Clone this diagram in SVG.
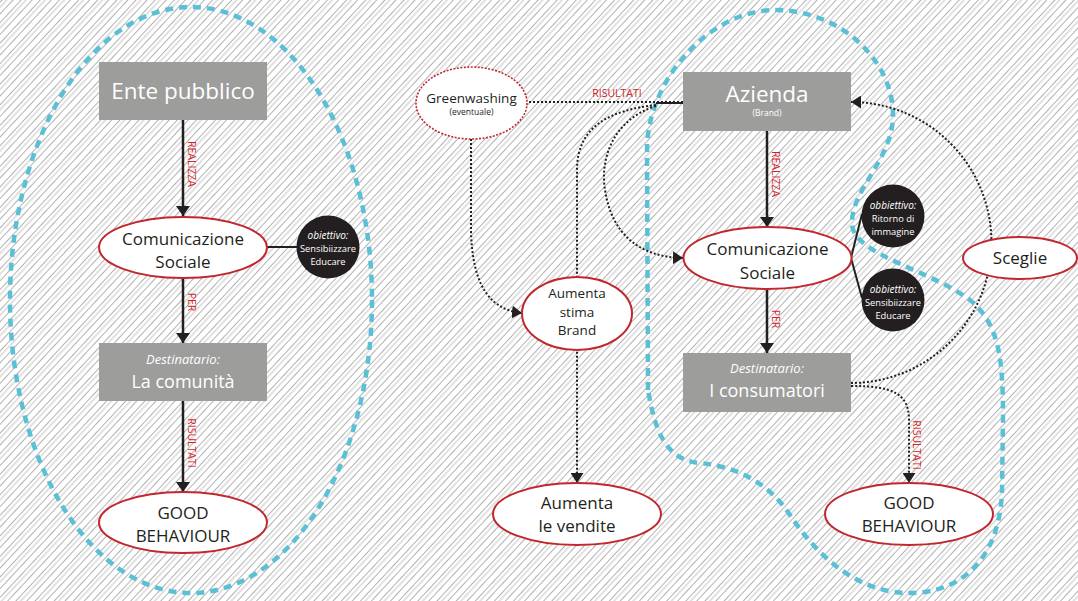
<svg xmlns="http://www.w3.org/2000/svg" width="1078" height="601" viewBox="0 0 1078 601">
<defs>
<pattern id="hatch" patternUnits="userSpaceOnUse" width="14" height="14" patternTransform="rotate(-47)">
<rect width="14" height="14" fill="#ffffff"/>
<line x1="0" y1="1.5" x2="14" y2="1.5" stroke="#b2b2b2" stroke-width="1"/>
<line x1="0" y1="5" x2="14" y2="5" stroke="#bcbcbc" stroke-width="0.9"/>
<line x1="0" y1="9.5" x2="14" y2="9.5" stroke="#b2b2b2" stroke-width="1"/>
</pattern>
<marker id="ah" viewBox="0 0 10 10" refX="10" refY="5" markerWidth="10" markerHeight="14" markerUnits="userSpaceOnUse" orient="auto" preserveAspectRatio="none">
<path d="M0,0 L10,5 L0,10 Z" fill="#231f20"/>
</marker>
<marker id="ahd" viewBox="0 0 10 10" refX="10" refY="5" markerWidth="10" markerHeight="13" markerUnits="userSpaceOnUse" orient="auto" preserveAspectRatio="none">
<path d="M0,0 L10,5 L0,10 Z" fill="#231f20"/>
</marker>
</defs>
<style>
text{font-family:"Open Sans","Noto Sans",sans-serif;text-anchor:middle}
.box{fill:#9d9d9c}
.ell{fill:#ffffff;stroke:#c1272d;stroke-width:2}
.dot{fill:#ffffff;stroke:#c1272d;stroke-width:1.6;stroke-dasharray:2 1.5}
.circ{fill:#231f20}
.solid{fill:none;stroke:#231f20;stroke-width:2.5}
.thin{fill:none;stroke:#231f20;stroke-width:2}
.dotted{fill:none;stroke:#231f20;stroke-width:2;stroke-dasharray:2 2}
.zone{fill:none;stroke:#5bc0d5;stroke-width:4.5;stroke-dasharray:8 6}
.w{fill:#ffffff}
.k{fill:#231f20}
.lbl{fill:#d2232a;font-size:10.5px}
.it{font-style:italic}
</style>
<rect width="1078" height="601" fill="url(#hatch)"/>
<g id="zones">
<ellipse class="zone" cx="191" cy="300" rx="181" ry="293"/>
<path class="zone" d="M648 390 L647 150 C647 80 710 10 775 10 C840 10 893 60 893 115 C893 160 850 190 852 225 C855 255 930 270 970 300 C1000 325 1003 360 1003 420 L1002 490 C1000 560 960 593 910 593 C860 593 820 560 790 515 C770 485 740 467 700 463 C665 460 655 430 648 390 Z"/>
</g>
<g id="connectors">
<line class="solid" x1="183" y1="120" x2="183" y2="216" marker-end="url(#ah)"/>
<line class="solid" x1="183" y1="278" x2="183" y2="343" marker-end="url(#ah)"/>
<line class="solid" x1="183" y1="401" x2="183" y2="492" marker-end="url(#ah)"/>
<line class="thin" x1="267" y1="247" x2="298" y2="247"/>
<line class="solid" x1="767" y1="131" x2="767" y2="227" marker-end="url(#ah)"/>
<line class="solid" x1="767" y1="289" x2="767" y2="353" marker-end="url(#ah)"/>
<line class="thin" x1="851" y1="258" x2="862" y2="214"/>
<line class="thin" x1="851" y1="258" x2="862" y2="298"/>
<line class="thin" x1="656" y1="103" x2="683" y2="103"/>
<line class="dotted" x1="683" y1="102" x2="527" y2="102"/>
<path class="dotted" d="M656 105 C612 110 577 125 577 170 L577 483" marker-end="url(#ahd)"/>
<path class="dotted" d="M656 106 C612 120 600 160 605 190 C612 235 640 257 683 258" marker-end="url(#ahd)"/>
<path class="dotted" d="M471 139 L471 230 C472 285 490 310 522 313" marker-end="url(#ahd)"/>
<path class="dotted" d="M851 383 A140 140 0 0 0 851 102" marker-end="url(#ahd)"/>
<path class="dotted" d="M851 386 C892 386 909 393 909 420 L909 483" marker-end="url(#ahd)"/>
<text class="lbl" transform="translate(188,164) rotate(90)">REALIZZA</text>
<text class="lbl" transform="translate(188,302) rotate(90)">PER</text>
<text class="lbl" transform="translate(188,443) rotate(90)">RISULTATI</text>
<text class="lbl" transform="translate(772,174) rotate(90)">REALIZZA</text>
<text class="lbl" transform="translate(772,319) rotate(90)">PER</text>
<text class="lbl" transform="translate(913,445) rotate(90)">RISULTATI</text>
<text class="lbl" x="617" y="97">RISULTATI</text>
</g>
<g id="ente-pubblico">
<rect class="box" x="99" y="62" width="168" height="58"/>
<text class="w" x="183" y="99" font-size="22.5">Ente pubblico</text>
</g>
<g id="comunicazione-sx">
<ellipse class="ell" cx="183" cy="247.5" rx="84" ry="30.5"/>
<text class="k" x="183" y="245" font-size="17">Comunicazione</text>
<text class="k" x="183" y="268" font-size="17">Sociale</text>
</g>
<g id="obiettivo-sx">
<circle class="circ" cx="328" cy="247" r="31.5"/>
<text class="w it" x="328" y="238.5" font-size="10">obiettivo:</text>
<text class="w" x="328" y="252" font-size="9.3">Sensibiizzare</text>
<text class="w" x="328" y="264.5" font-size="9.3">Educare</text>
</g>
<g id="destinatario-sx">
<rect class="box" x="99" y="343" width="168" height="58"/>
<text class="w it" x="183" y="364" font-size="13">Destinatario:</text>
<text class="w" x="183" y="388" font-size="18">La comunità</text>
</g>
<g id="good-sx">
<ellipse class="ell" cx="183" cy="522.5" rx="84" ry="30.5"/>
<text class="k" x="183" y="518.5" font-size="17">GOOD</text>
<text class="k" x="183" y="541.5" font-size="17">BEHAVIOUR</text>
</g>
<g id="greenwashing">
<ellipse class="dot" cx="471.5" cy="103" rx="55.5" ry="36"/>
<text class="k" x="471.5" y="103" font-size="13.5">Greenwashing</text>
<text class="k" x="471.5" y="115" font-size="8.5">(eventuale)</text>
</g>
<g id="azienda">
<rect class="box" x="683" y="72" width="168" height="59"/>
<text class="w" x="767" y="102" font-size="22.5">Azienda</text>
<text class="w" x="767" y="116" font-size="8.5">(Brand)</text>
</g>
<g id="comunicazione-dx">
<ellipse class="ell" cx="767.5" cy="258" rx="84" ry="31"/>
<text class="k" x="767.5" y="255" font-size="17">Comunicazione</text>
<text class="k" x="767.5" y="278.5" font-size="17">Sociale</text>
</g>
<g id="obiettivo-immagine">
<circle class="circ" cx="893" cy="216" r="31.5"/>
<text class="w it" x="893" y="208.5" font-size="10">obbiettivo:</text>
<text class="w" x="893" y="221.5" font-size="9.3">Ritorno di</text>
<text class="w" x="893" y="234.5" font-size="9.3">immagine</text>
</g>
<g id="obiettivo-sensibilizzare">
<circle class="circ" cx="893" cy="300" r="31.5"/>
<text class="w it" x="893" y="292.5" font-size="10">obbiettivo:</text>
<text class="w" x="893" y="305.5" font-size="9.3">Sensibiizzare</text>
<text class="w" x="893" y="318.5" font-size="9.3">Educare</text>
</g>
<g id="sceglie">
<ellipse class="ell" cx="1020" cy="258" rx="57" ry="21"/>
<text class="k" x="1020" y="264" font-size="17">Sceglie</text>
</g>
<g id="destinatario-dx">
<rect class="box" x="683" y="353" width="168" height="59"/>
<text class="w it" x="767" y="373" font-size="13">Destinatario:</text>
<text class="w" x="767" y="397" font-size="18">I consumatori</text>
</g>
<g id="aumenta-stima">
<ellipse class="ell" cx="577" cy="313.5" rx="55" ry="36.5"/>
<text class="k" x="577" y="298" font-size="13.5">Aumenta</text>
<text class="k" x="577" y="316.5" font-size="13.5">stima</text>
<text class="k" x="577" y="335" font-size="13.5">Brand</text>
</g>
<g id="aumenta-vendite">
<ellipse class="ell" cx="577" cy="514" rx="84" ry="31"/>
<text class="k" x="577" y="508.5" font-size="17">Aumenta</text>
<text class="k" x="577" y="532" font-size="17">le vendite</text>
</g>
<g id="good-dx">
<ellipse class="ell" cx="909" cy="514" rx="84" ry="31"/>
<text class="k" x="909" y="509" font-size="17">GOOD</text>
<text class="k" x="909" y="532" font-size="17">BEHAVIOUR</text>
</g>
</svg>
